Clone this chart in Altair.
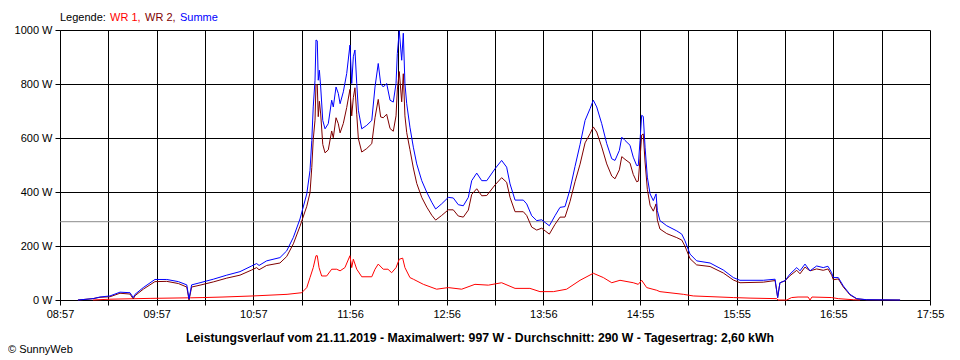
import altair as alt
import pandas as pd

# ---- data (time in minutes after midnight, power in W) ----
sum_t = [548.1, 557.4, 561.7, 567.9, 574.1, 580.3, 582.3, 583.4, 588.5, 595.7,
         603.0, 610.2, 615.4, 616.8, 618.4, 623.6, 631.8, 640.1, 648.3, 655.5,
         658.6, 660.1, 664.8, 673.0, 677.2, 681.3, 685.4, 689.6, 691.6, 692.7,
         693.6, 694.7, 695.3, 696.1, 696.7, 697.4, 698.2, 699.5, 700.9, 702.9,
         705.0, 706.0, 707.7, 709.1, 710.2, 712.2, 714.3, 716.3, 717.4, 718.4,
         719.4, 720.5, 721.5, 723.6, 726.7, 729.8, 731.8, 733.8, 735.3, 736.9,
         739.0, 741.1, 743.1, 744.8, 745.6, 746.8, 748.3, 749.3, 750.3, 751.4,
         753.4, 755.5, 757.6, 760.7, 763.8, 766.9, 769.3, 773.0, 777.1, 780.2,
         783.3, 786.4, 789.5, 791.6, 794.7, 797.8, 800.9, 806.0, 810.1, 813.2,
         815.3, 818.4, 823.5, 825.6, 828.7, 831.8, 834.9, 837.0, 839.6, 843.1,
         846.2, 849.3, 852.4, 855.5, 858.6, 861.7, 864.8, 866.8, 868.9, 872.0,
         875.1, 878.2, 880.2, 882.9, 884.4, 886.4, 889.5, 891.5, 893.6, 894.6,
         895.7, 896.7, 897.7, 898.8, 900.2, 901.9, 903.9, 905.6, 906.4, 908.0,
         912.2, 918.4, 921.5, 923.5, 926.6, 930.7, 939.0, 947.2, 953.4, 957.5,
         971.9, 979.2, 980.8, 982.2, 985.3, 988.4, 992.6, 994.6, 997.7, 1000.8,
         1004.9, 1009.0, 1011.9, 1014.2, 1015.2, 1018.3, 1021.4, 1025.5, 1029.7, 1035.9,
         1056.5]

summe_w = [0, 5, 11, 15, 29, 27, 9, 21, 46, 76,
           76, 68, 56, 4, 56, 64, 77, 92, 105, 126,
           135, 128, 145, 157, 182, 232, 300, 393, 480, 591,
           715, 814, 963, 960, 814, 851, 789, 665, 634, 653,
           740, 715, 789, 765, 727, 771, 839, 944, 802, 901,
           926, 802, 703, 634, 647, 665, 789, 876, 802, 789,
           802, 740, 733, 802, 913, 997, 888, 988, 802, 727,
           640, 566, 504, 442, 399, 362, 337, 356, 380, 378,
           353, 349, 380, 442, 470, 442, 442, 486, 517, 492,
           430, 370, 370, 356, 312, 294, 297, 287, 275, 312,
           343, 346, 410, 495, 576, 665, 709, 740, 715, 653,
           579, 523, 517, 554, 603, 591, 573, 529, 498, 498,
           591, 684, 680, 566, 455, 393, 368, 393, 331, 294,
           275, 256, 244, 219, 170, 145, 137, 111, 83, 73,
           73, 77, 9, 64, 71, 96, 120, 108, 133, 108,
           126, 120, 125, 101, 83, 83, 52, 21, 5, 1,
           0]

wr2_w = [0, 5, 10, 12, 25, 22, 4, 16, 40, 68,
         69, 61, 48, 0, 48, 55, 67, 81, 92, 111,
         120, 112, 128, 137, 161, 208, 273, 347, 397, 491,
         595, 666, 799, 796, 679, 736, 689, 576, 545, 556,
         626, 601, 675, 653, 619, 654, 713, 780, 682, 750,
         786, 688, 598, 548, 561, 579, 675, 743, 678, 675,
         688, 635, 625, 682, 778, 846, 734, 838, 682, 620,
         557, 489, 432, 380, 344, 314, 296, 313, 334, 334,
         311, 307, 333, 391, 412, 386, 387, 426, 453, 436,
         380, 327, 327, 313, 270, 259, 266, 256, 244, 280,
         307, 307, 365, 438, 503, 582, 616, 641, 622, 567,
         504, 459, 449, 482, 531, 521, 507, 465, 438, 440,
         525, 611, 615, 511, 410, 351, 329, 356, 296, 263,
         246, 231, 222, 199, 153, 130, 124, 100, 74, 64,
         66, 72, 9, 64, 71, 90, 110, 97, 122, 108,
         115, 110, 115, 92, 75, 78, 48, 19, 4, 1,
         0]

wr1_t = [557.4, 567.9, 592.7, 616.0, 616.8, 617.6, 625.4, 637.8, 656.4, 677.4,
         686.5, 689.6, 691.6, 693.6, 695.3, 696.1, 697.2, 698.8, 701.9, 705.0,
         708.1, 710.2, 713.2, 716.3, 717.4, 718.4, 720.5, 723.6, 729.8, 731.8,
         733.8, 736.9, 739.8, 742.1, 744.8, 746.8, 748.9, 750.3, 753.4, 755.5,
         761.7, 769.9, 777.1, 785.4, 793.6, 801.9, 810.1, 818.4, 827.6, 833.8,
         842.1, 850.3, 858.6, 866.8, 873.0, 878.2, 883.3, 891.5, 894.6, 896.7,
         899.8, 906.0, 908.0, 922.5, 928.6, 953.4, 963.7, 980.2, 981.0, 986.4,
         989.4, 993.4, 999.6, 1000.8, 1002.0, 1014.2, 1018.3, 1027.6, 1031.7]

wr1_w = [0, 3, 6, 8, 4, 8, 9, 11, 15, 21,
         27, 46, 83, 120, 164, 164, 120, 89, 89, 114,
         114, 108, 120, 164, 120, 151, 114, 86, 86, 114,
         133, 114, 114, 101, 120, 151, 155, 120, 83, 77,
         58, 40, 46, 40, 58, 55, 64, 43, 43, 31,
         31, 40, 73, 99, 83, 64, 73, 64, 58, 73,
         46, 36, 31, 21, 15, 9, 7, 5, 0, 0,
         9, 11, 11, 0, 11, 9, 5, 1, 0]

x_labels = ["08:57", "09:57", "10:57", "11:56", "12:56",
            "13:56", "14:55", "15:55", "16:55", "17:55"]
y_ticks = [0, 200, 400, 600, 800, 1000]
avg_w = 290
t_start, t_end = 537, 1075
n_slots = 18

title_text = ("Leistungsverlauf vom 21.11.2019 - Maximalwert: 997 W - "
              "Durchschnitt: 290 W - Tagesertrag: 2,60 kWh")

# ---- tables ----
df_sum = pd.DataFrame({"t": sum_t, "w": summe_w})
df_wr2 = pd.DataFrame({"t": sum_t, "w": wr2_w})
df_wr1 = pd.DataFrame({"t": wr1_t, "w": wr1_w})

x_ticks = [t_start + k * (t_end - t_start) / n_slots for k in range(n_slots + 1)]
idx = f"round((datum.value-{t_start})*{n_slots}/{t_end - t_start})"
arr = "[" + ",".join(f"'{s}'" for s in x_labels) + "]"
label_expr = f"({idx} % 2 == 0) ? {arr}[{idx}/2] : ''"

FONT = "Liberation Sans"

x_enc = alt.X("t:Q", scale=alt.Scale(domain=[t_start, t_end], nice=False, zero=False),
              axis=alt.Axis(values=x_ticks, labelExpr=label_expr, title=None,
                            tickSize=5, labelPadding=3, labelFlush=False,
                            labelOverlap=False, grid=True))
y_enc = alt.Y("w:Q", scale=alt.Scale(domain=[0, 1000], nice=False),
              axis=alt.Axis(values=y_ticks, labelExpr="datum.value + ' W'",
                            title=None, tickSize=5, labelPadding=3, grid=True))

base_line = lambda df, color: alt.Chart(df).mark_line(
    color=color, strokeWidth=1, interpolate="linear").encode(x=x_enc, y=y_enc)

avg_rule = alt.Chart(pd.DataFrame({"w": [avg_w]})).mark_rule(
    color="#8c8c8c", strokeWidth=1).encode(y=alt.Y("w:Q", scale=alt.Scale(domain=[0, 1000])))

one = pd.DataFrame({"a": [0]})

def txt(text, x, y, color="black", weight="normal", align="left", size=11):
    return alt.Chart(one).mark_text(
        text=text, color=color, fontWeight=weight, align=align,
        baseline="alphabetic", font=FONT, fontSize=size
    ).encode(x=alt.value(x), y=alt.value(y))

legend = (txt("Legende:", 0, -9)
          + txt("WR 1,", 50, -9, color="#ff0000")
          + txt("WR 2,", 85, -9, color="#800000")
          + txt("Summe", 120, -9, color="#0000ff"))

title = txt(title_text, 420, 312, weight="bold", align="center", size=12.25)
copyright_ = txt("© SunnyWeb", -52, 323)

chart = alt.layer(
    avg_rule,
    base_line(df_wr1, "#ff0000"),
    base_line(df_wr2, "#800000"),
    base_line(df_sum, "#0000ff"),
    legend, title, copyright_,
).properties(
    width=870, height=270,
    autosize=alt.AutoSizeParams(type="none"),
    padding={"left": 52, "top": 22, "right": 22, "bottom": 56},
    background="white",
).configure_view(stroke=None).configure_axis(
    gridColor="black", gridOpacity=1, gridWidth=1,
    domainColor="black", tickColor="black", labelColor="black",
    labelFont=FONT, labelFontSize=11,
)

chart.save("out.html", embed_options={"renderer": "svg", "actions": False})
